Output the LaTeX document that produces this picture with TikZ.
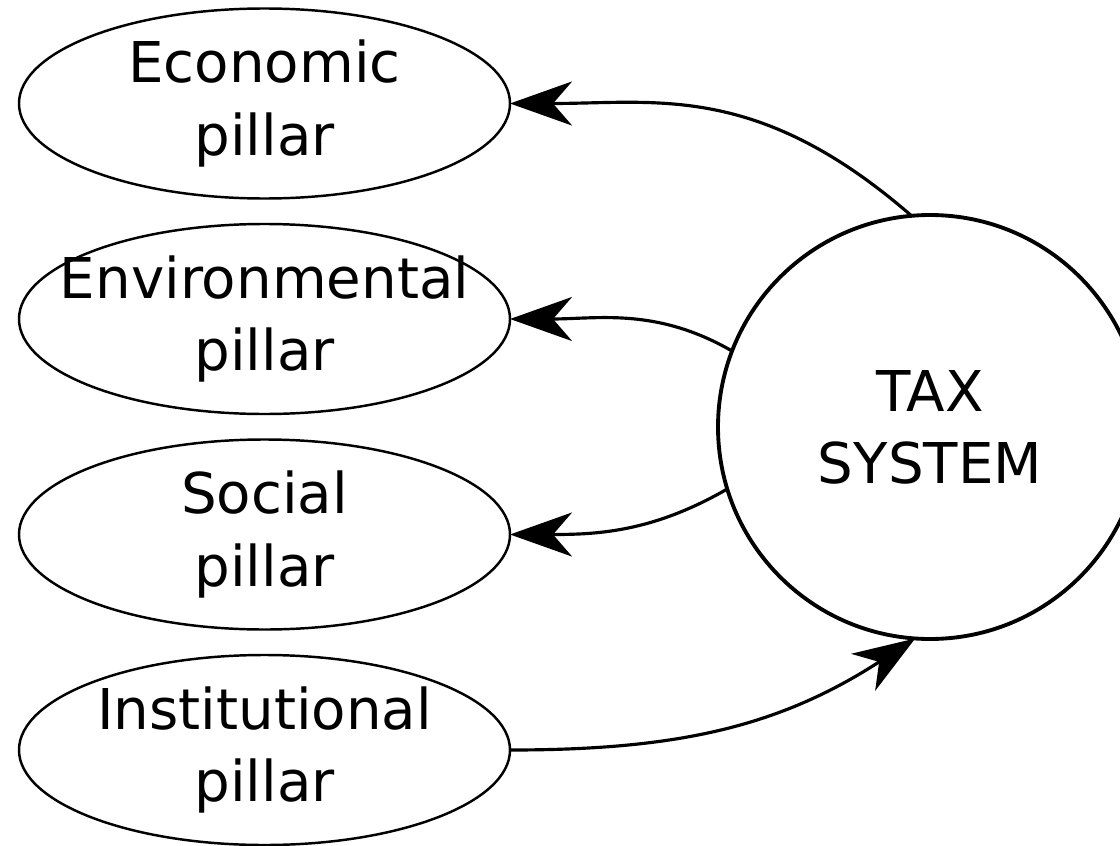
\documentclass[tikz,border=0pt]{standalone}
\usepackage{fontspec}
\setmainfont{DejaVu Sans}
\usetikzlibrary{arrows.meta,shapes.geometric,positioning}
\tikzset{arrows={-{Stealth[length=6.2mm,width=4.4mm,inset=1.9mm]}}}

\begin{document}
\begin{tikzpicture}[node distance=0.255cm,
    pillar/.style={ellipse, draw, line width=0.7pt, minimum width=4.91cm,
      minimum height=1.9cm, inner xsep=-0.35cm, inner ysep=0pt,
      outer sep=0pt, align=center, font=\fontsize{16}{20.5}\selectfont},
    taxnode/.style={circle, draw, line width=1.1pt, minimum size=4.24cm,
      inner sep=0pt, outer sep=0pt, align=center,
      font=\fontsize{16}{20.5}\selectfont}]

  \useasboundingbox (0,0) rectangle (11.2,8.45);

  \node [pillar] (eco) at (2.645,7.415) {Economic\\pillar};
  \node [pillar] (env) [below = of eco] {Environmental\\pillar};
  \node [pillar] (soc) [below = of env] {Social\\pillar};
  \node [pillar] (inst) [below = of soc] {Institutional\\pillar};

  \node [taxnode] (tax) at (9.30,4.18) {TAX\\SYSTEM};

  \path [line width=0.9pt]
        (tax.95) edge [out=139, in=0, out looseness=1.25, in looseness=0.9] (eco.east)
        (tax.159) edge [out=150, in=0] (env.east)
        (tax.197) edge [out=210, in=0] (soc.east)
        (inst.east) edge [out=0, in=213] (tax.266);
\end{tikzpicture}
\end{document}
